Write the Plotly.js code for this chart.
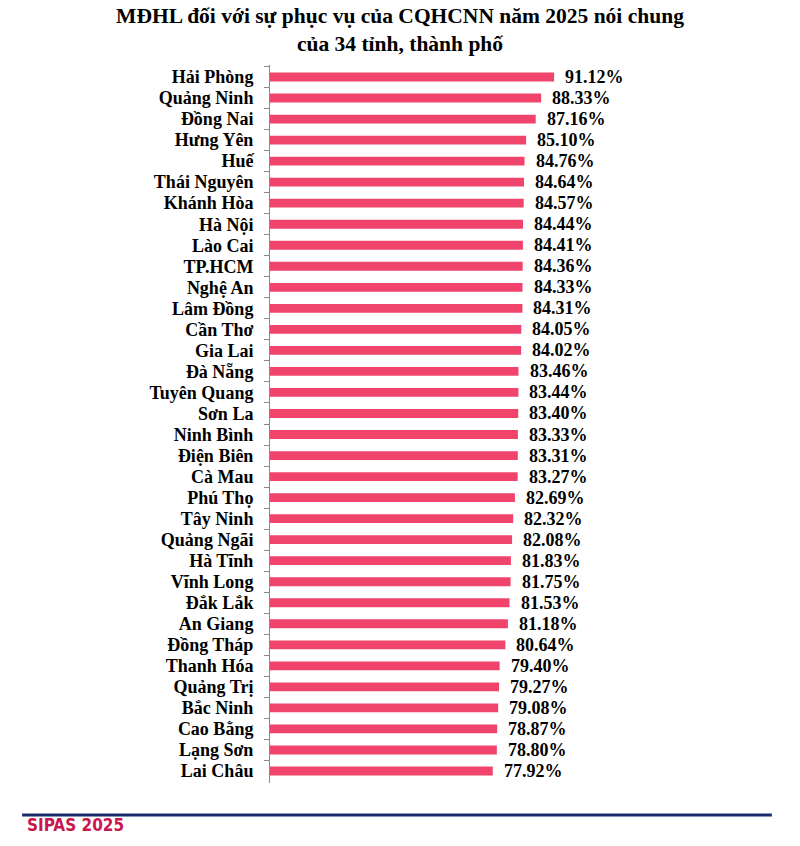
<!DOCTYPE html>
<html>
<head>
<meta charset="utf-8">
<script src="https://cdn.plot.ly/plotly-3.0.1.min.js"></script>
<style>html,body{margin:0;padding:0;background:#fff}</style>
</head>
<body>
<div id="chart" style="width:800px;height:846px"></div>
<script>
const provinces = ["Hải Phòng","Quảng Ninh","Đồng Nai","Hưng Yên","Huế","Thái Nguyên","Khánh Hòa","Hà Nội","Lào Cai","TP.HCM","Nghệ An","Lâm Đồng","Cần Thơ","Gia Lai","Đà Nẵng","Tuyên Quang","Sơn La","Ninh Bình","Điện Biên","Cà Mau","Phú Thọ","Tây Ninh","Quảng Ngãi","Hà Tĩnh","Vĩnh Long","Đắk Lắk","An Giang","Đồng Tháp","Thanh Hóa","Quảng Trị","Bắc Ninh","Cao Bằng","Lạng Sơn","Lai Châu"];
const satisfaction = [91.12,88.33,87.16,85.10,84.76,84.64,84.57,84.44,84.41,84.36,84.33,84.31,84.05,84.02,83.46,83.44,83.40,83.33,83.31,83.27,82.69,82.32,82.08,81.83,81.75,81.53,81.18,80.64,79.40,79.27,79.08,78.87,78.80,77.92];
const titleText = "MĐHL đối với sự phục vụ của CQHCNN năm 2025 nói chung<br>của 34 tỉnh, thành phố";
const footerText = "SIPAS 2025";

const serif = "Liberation Serif, Times New Roman, serif";

const trace = {
  type: "bar",
  orientation: "h",
  x: satisfaction,
  y: provinces,
  marker: {color: "#F0446C"},
  hoverinfo: "x+y"
};

const annotations = satisfaction.map((v, i) => ({
  x: v, y: provinces[i], xref: "x", yref: "y",
  text: v.toFixed(2) + "%",
  showarrow: false, xanchor: "left", xshift: 9,
  font: {family: serif, size: 18, color: "#000", weight: "bold"}
}));
annotations.push({
  x: -0.757, y: -0.0752, xref: "paper", yref: "paper",
  xanchor: "left", yanchor: "bottom", showarrow: false,
  text: "<b>" + footerText + "</b>",
  font: {family: "DejaVu Sans Condensed, Liberation Sans Narrow, sans-serif", size: 17, color: "#C8174F"}
});

const layout = {
  width: 800, height: 846,
  margin: {l: 270, r: 206, t: 65, b: 63},
  paper_bgcolor: "#fff", plot_bgcolor: "#fff",
  title: {
    text: titleText,
    x: 0.5, xref: "container", xanchor: "center",
    y: 0.9725, yref: "container", yanchor: "middle",
    font: {family: serif, size: 21.5, color: "#000", weight: "bold"}
  },
  xaxis: {
    range: [30, 99.7], showgrid: false, zeroline: false,
    showticklabels: false, ticks: "", showline: false, fixedrange: true
  },
  yaxis: {
    autorange: "reversed", type: "category", dtick: 1,
    showline: true, linecolor: "#8a8a8a", linewidth: 1,
    ticks: "outside", tickson: "boundaries", ticklen: 5, tickcolor: "#8a8a8a",
    showgrid: false, ticklabelstandoff: 12,
    tickfont: {family: serif, size: 18, color: "#000", weight: "bold"}
  },
  bargap: 0.58,
  showlegend: false,
  annotations: annotations,
  shapes: [{
    type: "line", xref: "paper", yref: "paper",
    x0: -0.765, x1: 1.549, y0: -0.0446, y1: -0.0446,
    line: {color: "#1B2A6B", width: 3}
  }]
};

Plotly.newPlot("chart", [trace], layout, {displayModeBar: false, staticPlot: true});
</script>
</body>
</html>
